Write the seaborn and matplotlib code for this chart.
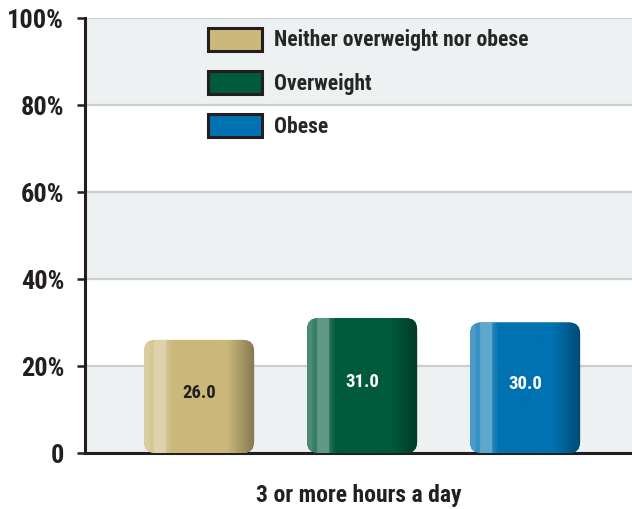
import numpy as np
import pandas as pd
import matplotlib
matplotlib.use("Agg")
import matplotlib.pyplot as plt
import seaborn as sns
from matplotlib.patches import FancyBboxPatch, Patch
from matplotlib.colors import to_rgb
from matplotlib import font_manager as fm

categories = ["Neither overweight nor obese", "Overweight", "Obese"]
values = [26.0, 31.0, 30.0]
group_label = "3 or more hours a day"
yticks = [0, 20, 40, 60, 80, 100]
ytick_labels = ["0", "20%", "40%", "60%", "80%", "100%"]
colors = ["#cbb87a", "#005a3c", "#0072b1"]
label_colors = ["#231f20", "white", "white"]

sns.set_theme(style="white")
available = {f.name for f in fm.fontManager.ttflist}
cands = ["Roboto Condensed", "Liberation Sans Narrow", "DejaVu Sans Condensed",
         "Open Sans Condensed", "Noto Sans Condensed", "Roboto", "DejaVu Sans"]
fam = [c for c in cands if c in available] or ["DejaVu Sans"]
condensed = fam[0] in ("Roboto Condensed", "Liberation Sans Narrow",
                       "DejaVu Sans Condensed", "Open Sans Condensed",
                       "Noto Sans Condensed")
plt.rcParams["font.family"] = [fam[0], "DejaVu Sans"]
plt.rcParams["font.weight"] = "heavy"
scale = 1.0 if condensed else 0.85
W = "heavy"

fig = plt.figure(figsize=(6.32, 5.09), dpi=100)
ax = fig.add_axes([0.1345, 0.110, 0.8655, 0.8546])

df = pd.DataFrame({"cat": categories, "val": values})
sns.barplot(data=df, x="cat", y="val", hue="cat", palette=colors,
            dodge=False, width=0.675, legend=False, ax=ax, zorder=3)

xlim = (-0.70, 2.656)
ylim = (0, 100)
ax.set_xlim(*xlim)
ax.set_ylim(*ylim)
ax.set_facecolor("white")

# background bands
for lo, fc in ((0, "#edf1f2"), (20, "#ffffff"), (40, "#edf1f2"),
               (60, "#ffffff"), (80, "#edf1f2")):
    ax.axhspan(lo, lo + 20, facecolor=fc, edgecolor="none", zorder=0, lw=0)
ax.set_axisbelow(True)
ax.yaxis.grid(True, color="#c9ced3", lw=1.6, zorder=1)
ax.xaxis.grid(False)

bbox = ax.get_window_extent()
xpp = (xlim[1] - xlim[0]) / bbox.width
ypp = (ylim[1] - ylim[0]) / bbox.height
aspect = ypp / xpp
r_px = 11

def shade(base, n=240):
    b = np.array(to_rgb(base))
    t = np.linspace(0, 1, n)
    out = np.zeros((1, n, 3))
    for i, tt in enumerate(t):
        if tt < 0.05:
            c = b + (1 - b) * 0.30
        elif tt < 0.09:
            c = b + (1 - b) * 0.22
        elif tt < 0.20:
            c = b + (1 - b) * 0.38
        elif tt < 0.26:
            c = b + (1 - b) * 0.15 * (0.26 - tt) / 0.06
        elif tt < 0.75:
            c = b
        else:
            f = 1 - 0.35 * (tt - 0.75) / 0.25
            c = b * f
        out[0, i] = np.clip(c, 0, 1)
    return out

bars = list(ax.patches)
for p, col, val, lc in zip(bars, colors, values, label_colors):
    x, y, w, h = p.get_x(), p.get_y(), p.get_width(), p.get_height()
    p.set_visible(False)
    fb = FancyBboxPatch((x, y), w, h,
                        boxstyle=f"round,pad=0,rounding_size={r_px * xpp}",
                        mutation_aspect=aspect, facecolor=col, edgecolor="none",
                        zorder=3)
    ax.add_patch(fb)
    im = ax.imshow(shade(col), extent=(x, x + w, y, y + h), aspect="auto",
                   zorder=4, interpolation="bilinear")
    im.set_clip_path(fb)
    ax.text(x + w / 2, val / 2 + 0.8, f"{val:.1f}", ha="center", va="center",
            color=lc, fontsize=13.5 * scale, fontweight=W, zorder=5)

ax.set_xlim(*xlim)
ax.set_ylim(*ylim)

ax.set_yticks(yticks)
ax.set_yticklabels(ytick_labels, fontsize=19 * scale, fontweight=W, color="#231f20")
ax.tick_params(axis="y", length=6, width=1.8, color="#231f20", pad=9, left=True)
ax.set_xticks([])
ax.set_xlabel(group_label, fontsize=17 * scale, fontweight=W, color="#231f20", labelpad=22)
ax.set_ylabel("")

for s in ("top", "right"):
    ax.spines[s].set_visible(False)
for s in ("left", "bottom"):
    ax.spines[s].set_color("#231f20")
    ax.spines[s].set_linewidth(2.2)

handles = [Patch(facecolor=c, edgecolor="#231f20", linewidth=2.2, label=l)
           for c, l in zip(colors, categories)]
ax.legend(handles=handles, loc="upper left", bbox_to_anchor=(0.19, 1.022),
          frameon=False, handlelength=2.5, handleheight=1.25, labelspacing=0.91,
          handletextpad=0.55, prop={"size": 15.5 * scale, "weight": W})

fig.savefig("out.png", dpi=100)
